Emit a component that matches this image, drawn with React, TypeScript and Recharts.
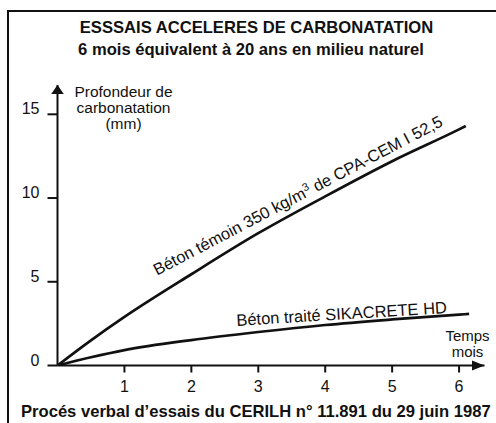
import React from 'react';
import { LineChart, Line, XAxis, YAxis, ReferenceDot } from 'recharts';

// Béton témoin 350 kg/m3 de CPA-CEM I 52,5
const temoinMonths = [0, 0.5, 1, 2, 3, 4, 5, 6, 6.1];
const temoinDepth = [0, 1.5, 2.9, 5.45, 7.9, 10.1, 12.2, 14.1, 14.3];
// Béton traité SIKACRETE HD
const traiteMonths = [0, 0.5, 1, 2, 3, 4, 5, 6, 6.15];
const traiteDepth = [0, 0.49, 0.92, 1.52, 2.0, 2.42, 2.75, 3.04, 3.08];

const xTicks = [1, 2, 3, 4, 5, 6];
const yTicks = [0, 5, 10, 15];

const title = 'ESSSAIS ACCELERES DE CARBONATATION';
const subtitle = '6 mois équivalent à 20 ans en milieu naturel';
const footer = 'Procés verbal d\u2019essais du CERILH n° 11.891 du 29 juin 1987';
const yLabelLines = ['Profondeur de', 'carbonatation', '(mm)'];
const xLabelLines = ['Temps', 'mois'];

const X_MAX = 6.38;
const Y_MAX = 16.75;

const temoinData = temoinMonths.map((m, i) => ({ m, v: temoinDepth[i] }));
const traiteData = traiteMonths.map((m, i) => ({ m, v: traiteDepth[i] }));

const FONT = '"Liberation Sans", Arial, Helvetica, sans-serif';
const INK = '#111';

// layout
const W = 496;
const H = 423;
const MARGIN = { top: 85, right: 11.5, bottom: 27.5, left: 0.5 };
const X_AXIS_H = 30;
const Y_AXIS_W = 57;
const PLOT_LEFT = MARGIN.left + Y_AXIS_W;
const PLOT_RIGHT = W - MARGIN.right;
const PLOT_TOP = MARGIN.top;
const PLOT_BOTTOM = H - MARGIN.bottom - X_AXIS_H;

const XTick = (props: any) => {
  const { x, y, payload } = props;
  return (
    <text x={x} y={y} dy="0.71em" textAnchor="middle" fontSize={16} fontFamily={FONT} fill={INK}>
      {payload.value}
    </text>
  );
};

const YTick = (props: any) => {
  const { x, y, payload } = props;
  return (
    <text x={x} y={y} textAnchor="end" fontSize={16} fontFamily={FONT} fill={INK}>
      {payload.value}
    </text>
  );
};

const TemoinLabel = (p: any) => (
  <text
    x={p.cx}
    y={p.cy}
    transform={`rotate(-27.7, ${p.cx}, ${p.cy})`}
    textAnchor="middle"
    fontSize={16.5}
    fontFamily={FONT}
    fill={INK}
  >
    Béton témoin 350 kg/m<tspan fontSize={11} dy={-6}>3</tspan>
    <tspan dy={6}> de CPA-CEM I 52,5</tspan>
  </text>
);

const TraiteLabel = (p: any) => (
  <text
    x={p.cx}
    y={p.cy}
    transform={`rotate(-3.5, ${p.cx}, ${p.cy})`}
    textAnchor="middle"
    fontSize={16.5}
    fontFamily={FONT}
    fill={INK}
  >
    Béton traité SIKACRETE HD
  </text>
);

export default function App() {
  return (
    <div style={{ position: 'absolute', left: 0, top: 0, width: W, height: H, overflow: 'hidden', background: '#fff' }}>
      <div
        style={{
          position: 'absolute',
          left: 7,
          top: 10,
          width: 600,
          height: 600,
          borderLeft: `2px solid ${INK}`,
          borderTop: `2px solid ${INK}`,
        }}
      />
      <div style={{ position: 'absolute', left: 0, top: 0 }}>
        <LineChart width={W} height={H} margin={MARGIN}>
          <XAxis
            type="number"
            dataKey="m"
            domain={[0, X_MAX]}
            ticks={xTicks}
            allowDataOverflow
            height={X_AXIS_H}
            axisLine={{ stroke: INK, strokeWidth: 2 }}
            tickLine={{ stroke: INK, strokeWidth: 2 }}
            tickSize={7}
            tickMargin={8}
            tick={<XTick />}
          />
          <YAxis
            type="number"
            domain={[0, Y_MAX]}
            ticks={yTicks}
            allowDataOverflow
            width={Y_AXIS_W}
            axisLine={{ stroke: INK, strokeWidth: 2 }}
            tickLine={{ stroke: INK, strokeWidth: 2 }}
            tickSize={10}
            tickMargin={8}
            tick={<YTick />}
          />
          <Line
            data={temoinData}
            dataKey="v"
            type="monotone"
            stroke={INK}
            strokeWidth={2.7}
            dot={false}
            activeDot={false}
            isAnimationActive={false}
          />
          <Line
            data={traiteData}
            dataKey="v"
            type="monotone"
            stroke={INK}
            strokeWidth={2.7}
            dot={false}
            activeDot={false}
            isAnimationActive={false}
          />
          <ReferenceDot x={3.63} y={9.85} r={0} ifOverflow="visible" shape={TemoinLabel} />
          <ReferenceDot x={4.25} y={2.75} r={0} ifOverflow="visible" shape={TraiteLabel} />
        </LineChart>
      </div>
      <svg
        width={W}
        height={H}
        style={{ position: 'absolute', left: 0, top: 0, pointerEvents: 'none' }}
        fontFamily={FONT}
        fill={INK}
      >
        {/* axis arrowheads */}
        <path
          d={`M${PLOT_RIGHT},${PLOT_BOTTOM} L${PLOT_RIGHT - 12.5},${PLOT_BOTTOM - 5} L${PLOT_RIGHT - 12.5},${PLOT_BOTTOM + 5} Z`}
          fill={INK}
        />
        <path
          d={`M${PLOT_LEFT},${PLOT_TOP} L${PLOT_LEFT - 6.3},${PLOT_TOP + 9} L${PLOT_LEFT + 6.3},${PLOT_TOP + 9} Z`}
          fill={INK}
        />
        <text x={256.5} y={33} textAnchor="middle" fontSize={16.6} fontWeight="bold">{title}</text>
        <text x={251} y={54.5} textAnchor="middle" fontSize={16.6} fontWeight="bold">{subtitle}</text>
        <text x={21} y={416.5} textAnchor="start" fontSize={16.6} fontWeight="bold">{footer}</text>
        {yLabelLines.map((t, i) => (
          <text key={t} x={123.5} y={97 + i * 16} textAnchor="middle" fontSize={15.5}>{t}</text>
        ))}
        {xLabelLines.map((t, i) => (
          <text key={t} x={467.5} y={341 + i * 15.5} textAnchor="middle" fontSize={15}>{t}</text>
        ))}
      </svg>
    </div>
  );
}
